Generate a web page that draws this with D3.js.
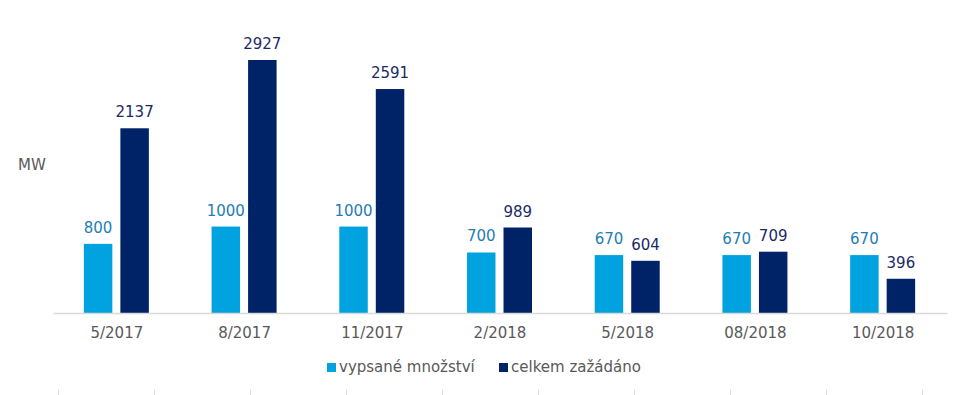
<!DOCTYPE html>
<html><head><meta charset="utf-8">
<script src="https://cdn.jsdelivr.net/npm/d3@7"></script>
<style>body{margin:0;background:#fff}svg{display:block}text{font-family:"DejaVu Sans",Verdana,sans-serif}</style>
</head><body><svg id="c" width="965" height="395"></svg>
<script>
const categories = ["5/2017","8/2017","11/2017","2/2018","5/2018","08/2018","10/2018"];
const vypsane = [800,1000,1000,700,670,670,670];
const zazadano = [2137,2927,2591,989,604,709,396];
const seriesNames = ["vypsané množství","celkem zažádáno"];
const colors = ["#00A3E0","#002266"];
const labelColors = ["#1F7DB3","#1A2A66"];

const svg = d3.select("#c");
const left = 53, right = 947, base = 313;
const x = d3.scaleBand().domain(categories).range([left,right]).paddingInner(0).paddingOuter(0);
const y = d3.scaleLinear().domain([0,2927]).range([base,60]);
const sub = d3.scaleBand().domain([0,1]).range([-33,32]).paddingInner(0.22);

const series = [vypsane, zazadano];
series.forEach((vals,si)=>{
  const g = svg.append("g");
  g.selectAll("rect").data(vals).join("rect")
    .attr("x",(d,i)=>x(categories[i])+x.bandwidth()/2+sub(si))
    .attr("y",d=>y(d)).attr("width",sub.bandwidth()).attr("height",d=>base-y(d))
    .attr("fill",colors[si]);
  g.selectAll("text").data(vals).join("text")
    .attr("x",(d,i)=>x(categories[i])+x.bandwidth()/2+sub(si)+sub.bandwidth()/2)
    .attr("y",d=>y(d)-11).attr("text-anchor","middle")
    .attr("font-size","15px").attr("fill",labelColors[si]).text(d=>d);
});

// axis
const ax = svg.append("g").attr("transform",`translate(0,${base})`)
  .call(d3.axisBottom(x).tickSize(0).tickPadding(14));
ax.select(".domain").attr("stroke","#d9d9d9").attr("stroke-width",1.5);
ax.selectAll("text").attr("font-size","15px").attr("fill","#595959")
  .attr("font-family","DejaVu Sans, Verdana, sans-serif");

// bottom stray tick marks
const tickPos = d3.range(10);
const tx = d3.scaleLinear().domain([0,9]).range([58.5,922.5]);
svg.append("g").selectAll("line").data(tickPos).join("line")
  .attr("x1",d=>tx(d)).attr("x2",d=>tx(d)).attr("y1",390).attr("y2",395)
  .attr("stroke","#d9d9d9").attr("stroke-width",1);

// MW label
svg.append("text").attr("x",18).attr("y",170).attr("font-size","15px").attr("fill","#595959").text("MW");

// legend
const legX = [327,499];
seriesNames.forEach((n,i)=>{
  svg.append("rect").attr("x",legX[i]).attr("y",363).attr("width",9).attr("height",9).attr("fill",colors[i]);
  svg.append("text").attr("x",legX[i]+12).attr("y",372).attr("font-size","15px").attr("fill","#595959").text(n);
});
</script></body></html>
